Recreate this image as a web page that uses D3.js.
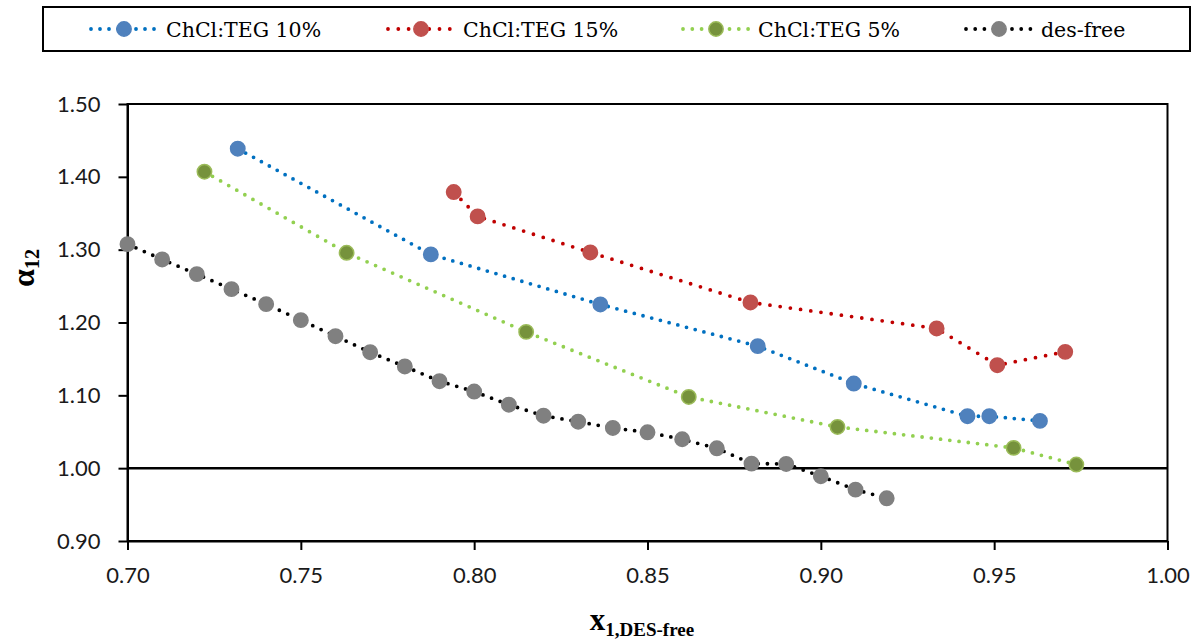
<!DOCTYPE html>
<html>
<head>
<meta charset="utf-8">
<script src="https://cdn.jsdelivr.net/npm/d3@7"></script>
<style>
  html, body { margin: 0; padding: 0; background: #fff; }
  svg { display: block; }
</style>
</head>
<body>
<div id="chart"></div>
<script>
// ---- data ----
const seriesNames = ['ChCl:TEG 10%', 'ChCl:TEG 15%', 'ChCl:TEG 5%', 'des-free'];

const teg10X = [0.7318, 0.7875, 0.8364, 0.8818, 0.9095, 0.9423, 0.9486, 0.9632];
const teg10Y = [1.4386, 1.2935, 1.2248, 1.1675, 1.1162, 1.0713, 1.0713, 1.0649];

const teg15X = [0.7941, 0.8010, 0.8335, 0.8797, 0.9334, 0.9509, 0.9705];
const teg15Y = [1.3791, 1.3457, 1.2962, 1.2275, 1.1918, 1.1414, 1.1597];

const teg5X = [0.7222, 0.7632, 0.8150, 0.8619, 0.9048, 0.9556, 0.9737];
const teg5Y = [1.4070, 1.2957, 1.1871, 1.0978, 1.0566, 1.0278, 1.0050];

const freeX = [0.70, 0.71, 0.72, 0.73, 0.74, 0.75, 0.76, 0.77, 0.78, 0.79, 0.80, 0.81,
               0.82, 0.83, 0.84, 0.85, 0.86, 0.87, 0.88, 0.89, 0.90, 0.91, 0.919];
const freeY = [1.3076, 1.2866, 1.2664, 1.2458, 1.2252, 1.2032, 1.1812, 1.1592, 1.1396, 1.1194, 1.1052, 1.0871,
               1.0720, 1.0638, 1.0552, 1.0493, 1.0397, 1.0273, 1.0063, 1.0058, 0.9889, 0.9706, 0.9586];

const xTicks = [0.70, 0.75, 0.80, 0.85, 0.90, 0.95, 1.00];
const yTicks = [0.90, 1.00, 1.10, 1.20, 1.30, 1.40, 1.50];
const refLine = 1.00;

// ---- styles ----
const styles = [
  { line: '#0070C0', fill: '#4F81BD', stroke: '#4F81BD', gap: 9.0 },
  { line: '#C00000', fill: '#C0504D', stroke: '#C0504D', gap: 10.3 },
  { line: '#92D050', fill: '#76923C', stroke: '#9BBB59', gap: 9.3 },
  { line: '#000000', fill: '#808080', stroke: '#808080', gap: 9.2 }
];

const series = [
  [teg10X, teg10Y], [teg15X, teg15Y], [teg5X, teg5Y], [freeX, freeY]
].map(([xs, ys], i) => ({
  name: seriesNames[i],
  style: styles[i],
  points: xs.map((x, j) => ({ x, y: ys[j] }))
}));

const width = 1198, height = 639;
const plot = { left: 127.5, right: 1167.5, top: 104, bottom: 541 };

const svg = d3.select('#chart').append('svg')
  .attr('width', width)
  .attr('height', height)
  .style('background', '#fff');

const x = d3.scaleLinear().domain([0.70, 1.00]).range([plot.left, plot.right]);
const y = d3.scaleLinear().domain([0.90, 1.50]).range([plot.bottom, plot.top]);

// axes
const tickFont = 'Lato, "Open Sans", sans-serif';

const xAxis = svg.append('g')
  .attr('transform', `translate(0,${plot.bottom})`)
  .call(d3.axisBottom(x).tickValues(xTicks).tickFormat(d3.format('.2f'))
    .tickSize(9).tickSizeOuter(0).tickPadding(17));

const yAxis = svg.append('g')
  .attr('transform', `translate(${plot.left},0)`)
  .call(d3.axisLeft(y).tickValues(yTicks).tickFormat(d3.format('.2f'))
    .tickSize(9).tickSizeOuter(0).tickPadding(18));

[xAxis, yAxis].forEach(g => {
  g.select('.domain').attr('stroke', '#000').attr('stroke-width', 2);
  g.selectAll('.tick line').attr('stroke', '#000').attr('stroke-width', 2);
  g.selectAll('.tick text')
    .attr('fill', '#1a1a1a')
    .style('font-family', tickFont)
    .style('font-size', '22px');
});

// plot border (top / right)
svg.append('rect')
  .attr('x', plot.left).attr('y', plot.top)
  .attr('width', plot.right - plot.left).attr('height', plot.bottom - plot.top)
  .attr('fill', 'none').attr('stroke', '#000').attr('stroke-width', 2);

// reference line at alpha = 1
svg.append('line')
  .attr('x1', plot.left).attr('x2', plot.right)
  .attr('y1', y(refLine)).attr('y2', y(refLine))
  .attr('stroke', '#000').attr('stroke-width', 2.5);

// series
const line = d3.line().x(d => x(d.x)).y(d => y(d.y));

series.forEach(s => {
  const g = svg.append('g').attr('class', 'series');
  g.append('path')
    .datum(s.points)
    .attr('d', line)
    .attr('fill', 'none')
    .attr('stroke', s.style.line)
    .attr('stroke-width', 3.8)
    .attr('stroke-linecap', 'round')
    .attr('stroke-dasharray', `0 ${s.style.gap}`);

  g.selectAll('circle')
    .data(s.points)
    .join('circle')
    .attr('cx', d => x(d.x))
    .attr('cy', d => y(d.y))
    .attr('r', 7.2)
    .attr('fill', s.style.fill)
    .attr('stroke', s.style.stroke)
    .attr('stroke-width', 1.5);
});

// axis titles
const titleFont = '"Liberation Serif", "DejaVu Serif", serif';

const yTitle = svg.append('text')
  .attr('transform', 'translate(34,268) rotate(-90)')
  .attr('text-anchor', 'middle')
  .style('font-family', titleFont)
  .style('font-weight', 'bold')
  .attr('fill', '#000');
yTitle.append('tspan').style('font-size', '32px').text('α');
yTitle.append('tspan').style('font-size', '20px').attr('dy', 5).text('12');

const xTitle = svg.append('text')
  .attr('x', 642).attr('y', 630)
  .attr('text-anchor', 'middle')
  .style('font-family', titleFont)
  .style('font-weight', 'bold')
  .attr('fill', '#000');
xTitle.append('tspan').style('font-size', '31px').text('x');
xTitle.append('tspan').style('font-size', '19px').attr('dy', 6).text('1,DES-free');

// legend
const legendMarkerX = [124, 421, 716, 999];
const legend = svg.append('g').attr('class', 'legend');
legend.append('rect')
  .attr('x', 43).attr('y', 7).attr('width', 1147).attr('height', 44)
  .attr('fill', '#fff').attr('stroke', '#000').attr('stroke-width', 2);

series.forEach((s, i) => {
  const cx = legendMarkerX[i], cy = 29;
  const item = legend.append('g');
  item.append('line')
    .attr('x1', cx - 33).attr('x2', cx + 33)
    .attr('y1', cy).attr('y2', cy)
    .attr('stroke', s.style.line)
    .attr('stroke-width', 3.8)
    .attr('stroke-linecap', 'round')
    .attr('stroke-dasharray', `0 ${s.style.gap}`);
  item.append('circle')
    .attr('cx', cx).attr('cy', cy).attr('r', 7.2)
    .attr('fill', s.style.fill)
    .attr('stroke', s.style.stroke)
    .attr('stroke-width', 1.5);
  item.append('text')
    .attr('x', cx + 42).attr('y', cy + 7.5)
    .style('font-family', '"DejaVu Serif", serif')
    .style('font-size', '20.5px')
    .attr('fill', '#000')
    .text(s.name);
});
</script>
</body>
</html>
